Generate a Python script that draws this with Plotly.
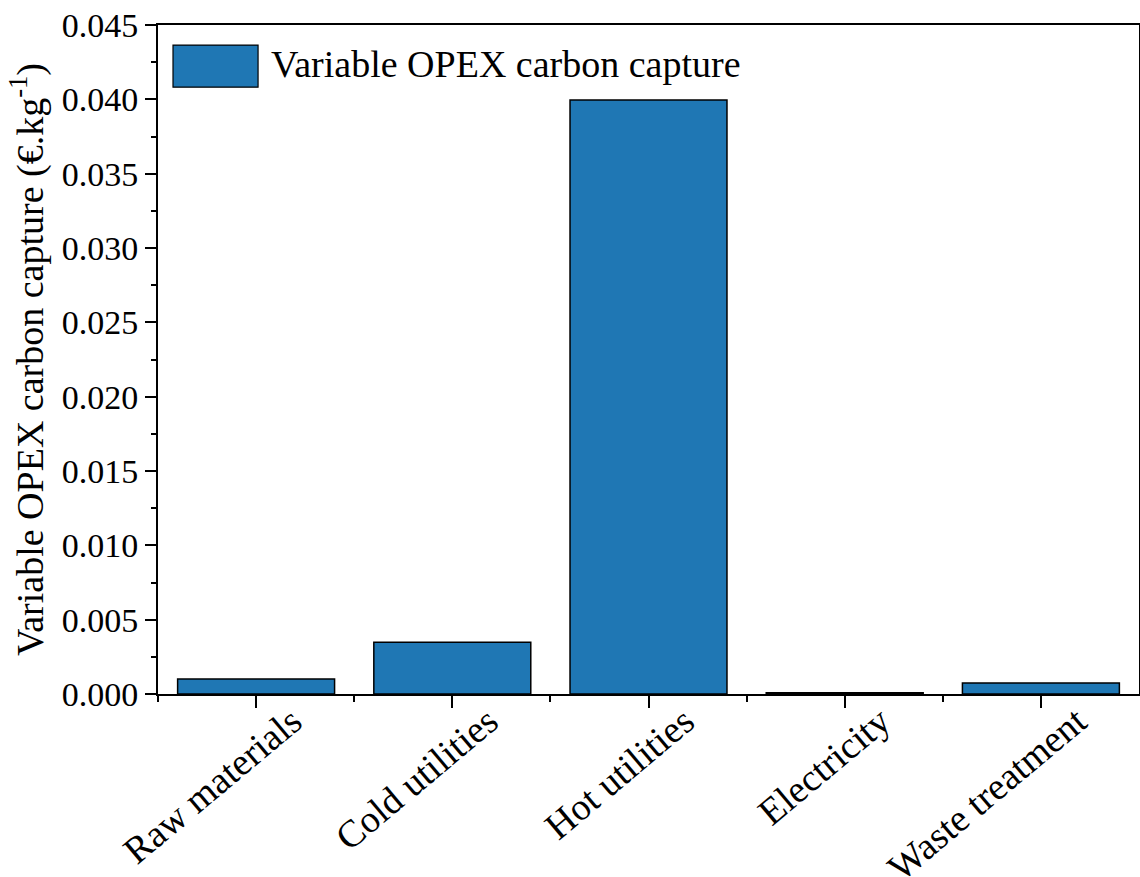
import plotly.graph_objects as go

categories = ["Raw materials", "Cold utilities", "Hot utilities", "Electricity", "Waste treatment"]
opex_values = [0.00101, 0.00348, 0.03995, 0.00009, 0.00074]
series_name = "Variable OPEX carbon capture"
y_tick_values = [0.000, 0.005, 0.010, 0.015, 0.020, 0.025, 0.030, 0.035, 0.040, 0.045]

FONT = "Liberation Serif, Times New Roman, serif"
BAR_COLOR = "#1f77b4"

positions = list(range(len(categories)))

fig = go.Figure()
fig.add_trace(go.Bar(
    x=positions,
    y=opex_values,
    name=series_name,
    width=0.8,
    marker=dict(color=BAR_COLOR, line=dict(color="black", width=1.5)),
    showlegend=False,
))

# Legend drawn as a large swatch + label in the upper-left corner
fig.add_shape(type="rect", xref="paper", yref="paper",
              x0=0.0153, x1=0.102, y0=0.907, y1=0.970,
              fillcolor=BAR_COLOR, line=dict(color="black", width=1.2))
fig.add_annotation(xref="paper", yref="paper", x=0.113, y=0.941,
                   text=series_name, showarrow=False, xanchor="left", yanchor="middle",
                   font=dict(family=FONT, size=38, color="black"))

fig.update_layout(
    width=1140, height=877,
    margin=dict(l=158, r=1, t=25, b=183),
    plot_bgcolor="white", paper_bgcolor="white",
    font=dict(family=FONT, size=35, color="black"),
    bargap=0.2,
)

fig.update_xaxes(
    range=[-0.5, len(categories) - 0.5],
    tickmode="array", tickvals=positions, ticktext=categories,
    tickangle=-40, automargin=False,
    ticklabelshift=36, ticklabelstandoff=-24,
    ticks="outside", ticklen=12, tickwidth=2, tickcolor="black",
    minor=dict(tickmode="array", tickvals=[p + 0.5 for p in positions[:-1]] + [-0.5],
               ticks="outside", ticklen=6, tickwidth=2, tickcolor="black"),
    showline=True, linewidth=2, linecolor="black", mirror=True,
    showgrid=False, zeroline=False,
    tickfont=dict(family=FONT, size=38, color="black"),
)

fig.update_yaxes(
    range=[0, 0.045], automargin=False,
    tickmode="array", tickvals=y_tick_values,
    ticktext=[f"{v:.3f}" for v in y_tick_values],
    ticks="outside", ticklen=11, tickwidth=2, tickcolor="black",
    minor=dict(dtick=0.0025, tick0=0, ticks="outside", ticklen=5, tickwidth=2, tickcolor="black"),
    showline=True, linewidth=2, linecolor="black", mirror=True,
    showgrid=False, zeroline=False,
    tickfont=dict(family=FONT, size=34, color="black"),
    title=dict(text="Variable OPEX carbon capture (€.kg<sup>-1</sup>)",
               font=dict(family=FONT, size=38, color="black"), standoff=6),
)

fig.write_html("out.html")
